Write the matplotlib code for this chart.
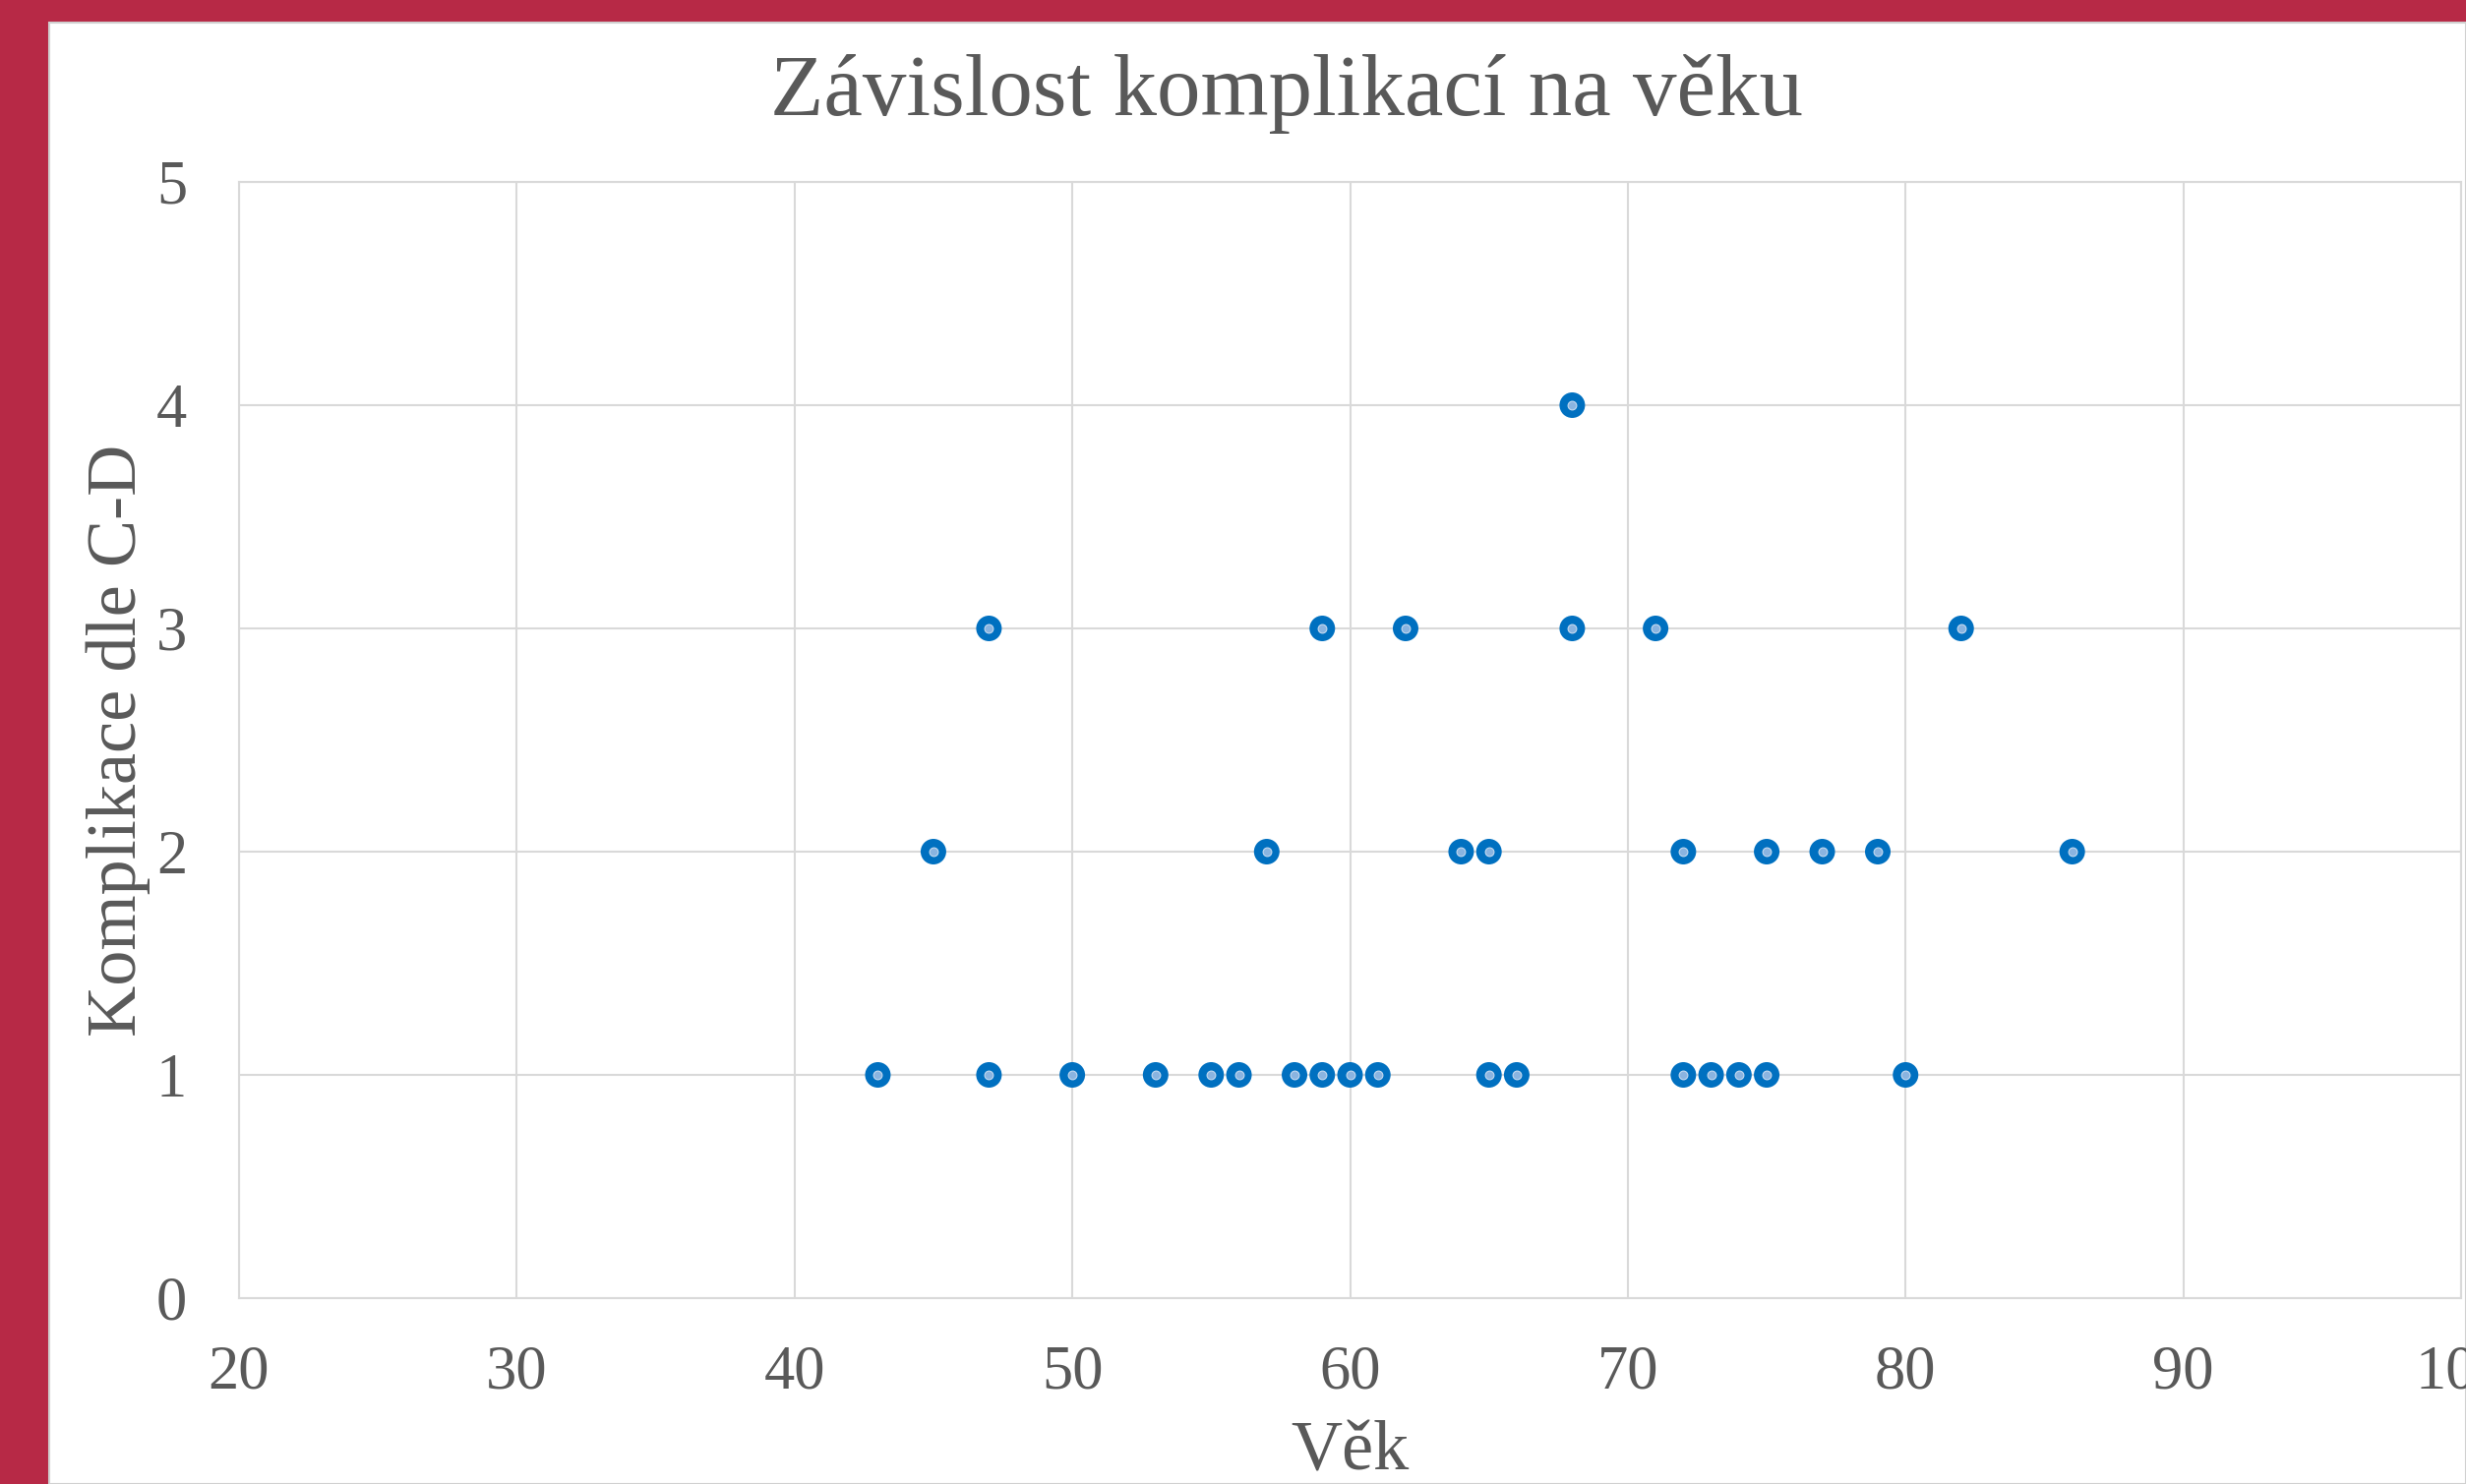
import matplotlib
matplotlib.use("Agg")
import matplotlib.pyplot as plt
from matplotlib.patches import Rectangle

# Data
ages_c1 = [43, 47, 50, 53, 55, 56, 58, 59, 60, 61, 65, 66, 72, 73, 74, 75, 80]
ages_c2 = [45, 57, 64, 65, 72, 75, 77, 79, 86]
ages_c3 = [47, 59, 62, 68, 71, 82]
ages_c4 = [68]

ages = ages_c1 + ages_c2 + ages_c3 + ages_c4
compl = [1] * len(ages_c1) + [2] * len(ages_c2) + [3] * len(ages_c3) + [4] * len(ages_c4)

x_ticks = [20, 30, 40, 50, 60, 70, 80, 90, 100]
y_ticks = [0, 1, 2, 3, 4, 5]

title = "Závislost komplikací na věku"
xlabel = "Věk"
ylabel = "Komplikace dle C-D"

W, H = 2507, 1509
plt.rcParams['font.family'] = ['Liberation Serif', 'DejaVu Serif']
text_color = "#595959"
grid_color = "#D9D9D9"
red = "#B72946"

fig = plt.figure(figsize=(W / 100, H / 100), dpi=100)
fig.patch.set_facecolor(red)
fig.patches.append(Rectangle((50 / W, 0), 1 - 50 / W, 1 - 23 / H, transform=fig.transFigure,
                             facecolor="white", edgecolor="#D0D0D0", linewidth=1.5, zorder=-10))

ax = fig.add_axes([243 / W, 1 - 1320 / H, (2502 - 243) / W, (1320 - 185) / H])
ax.set_facecolor("white")
ax.set_xlim(20, 100)
ax.set_ylim(0, 5)
ax.set_xticks(x_ticks)
ax.set_yticks(y_ticks)
ax.set_xticklabels([str(t) for t in x_ticks])
ax.set_yticklabels([str(t) for t in y_ticks])
ax.grid(True, color=grid_color, linewidth=1.5, zorder=0)
ax.set_axisbelow(True)
for s in ax.spines.values():
    s.set_color(grid_color)
    s.set_linewidth(1.5)
ax.tick_params(axis='both', length=0, labelsize=45, colors=text_color)
ax.tick_params(axis='x', pad=34)
ax.tick_params(axis='y', pad=38)
for lbl in ax.get_xticklabels() + ax.get_yticklabels():
    lbl.set_clip_on(False)

ax.scatter(ages, compl, s=350, color="#0070C0", edgecolors="none", zorder=3, clip_on=False)
ax.scatter(ages, compl, s=40, color="#8AB4E0", edgecolors="#C5DAF0", linewidths=0.8, zorder=4, clip_on=False)

ax.set_xlabel(xlabel, fontsize=52, color=text_color, labelpad=14)
ax.set_ylabel(ylabel, fontsize=52, color=text_color, labelpad=4)

fig.text(1308 / W, 1 - 96 / H, title, fontsize=64, color=text_color, ha="center", va="center")

fig.savefig("out.png", dpi=100, facecolor=fig.get_facecolor())
